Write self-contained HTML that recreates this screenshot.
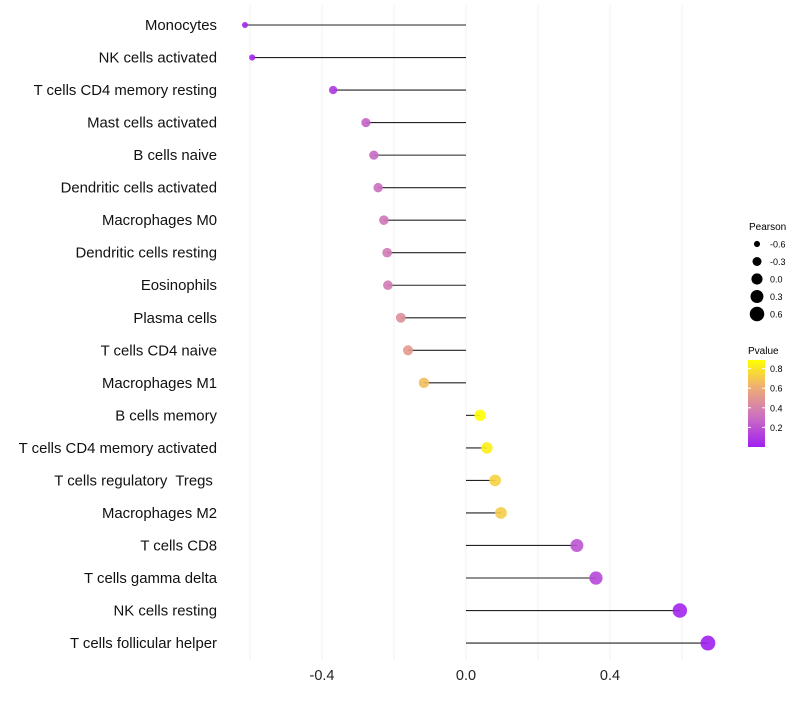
<!DOCTYPE html>
<html><head><meta charset="utf-8"><style>body{margin:0;background:#fff}svg{font-family:"Liberation Sans",sans-serif}text{white-space:pre}</style></head>
<body>
<svg id="c" width="800" height="700">
<defs><linearGradient id="pg" x1="0" y1="1" x2="0" y2="0">
<stop offset="0" stop-color="#a020f0"/><stop offset="0.35" stop-color="#cc70c0"/><stop offset="0.7" stop-color="#f0b070"/><stop offset="1" stop-color="#ffff00"/></linearGradient></defs>
<g id="grid"></g><g id="marks"></g><g id="axes"></g>
<g>
<text x="749" y="230" font-size="10">Pearson</text>
<g id="sizeleg"></g>
<text x="748" y="354" font-size="10">Pvalue</text>
<rect x="748" y="360" width="17" height="87" fill="url(#pg)"/>
<g id="colleg"></g>
</g>
</svg>
<script>
const categories=["Monocytes","NK cells activated","T cells CD4 memory resting","Mast cells activated","B cells naive","Dendritic cells activated","Macrophages M0","Dendritic cells resting","Eosinophils","Plasma cells","T cells CD4 naive","Macrophages M1","B cells memory","T cells CD4 memory activated","T cells regulatory  Tregs ","Macrophages M2","T cells CD8","T cells gamma delta","NK cells resting","T cells follicular helper"];
const pearson=[-0.614,-0.594,-0.369,-0.278,-0.256,-0.244,-0.228,-0.219,-0.217,-0.181,-0.161,-0.117,0.039,0.058,0.081,0.097,0.308,0.361,0.594,0.672];
const pvalue=[0.01,0.02,0.1,0.25,0.28,0.3,0.33,0.35,0.35,0.45,0.5,0.65,0.87,0.82,0.72,0.7,0.2,0.15,0.02,0.0];
const xTicks=[-0.4,0.0,0.4];
const gridVals=[-0.6,-0.4,-0.2,0,0.2,0.4,0.6];
const sizeLegend=[-0.6,-0.3,0.0,0.3,0.6];
const colorTicks=[0.2,0.4,0.6,0.8];
const NS="http://www.w3.org/2000/svg";
const X=v=>466+v*360, Y=i=>25+i*32.53, R=v=>Math.sqrt(Math.max(5,31+36*v));
const PY=p=>447-p*98;
function col(p){const t=Math.min(1,Math.max(0,p/0.87));const s=[[0,[160,32,240]],[0.35,[204,112,192]],[0.7,[240,176,112]],[1,[255,255,0]]];
for(let k=1;k<s.length;k++){if(t<=s[k][0]){const a=s[k-1],b=s[k],f=(t-a[0])/(b[0]-a[0]);return 'rgb('+a[1].map((c,j)=>Math.round(c+(b[1][j]-c)*f)).join(',')+')';}}return 'rgb(255,255,0)';}
function mk(tag,at,par,txt){const e=document.createElementNS(NS,tag);for(const k in at)e.setAttribute(k,at[k]);if(txt!=null)e.textContent=txt;document.getElementById(par).appendChild(e);return e;}
gridVals.forEach(v=>{const e=mk('line',{x1:X(v),x2:X(v),y1:5,y2:660,stroke:'#f0f0f0','stroke-width':1},'grid');

});
xTicks.forEach(v=>{const e=mk('text',{x:X(v),y:680,'font-size':14.5,'text-anchor':'middle',fill:'#222'},'axes',v.toFixed(1));

});
categories.forEach((c,i)=>{const t=mk('text',{x:217,y:Y(i)+5,'font-size':14.9,'text-anchor':'end',fill:'#111'},'axes',c);


const l=mk('line',{x1:X(0),x2:X(pearson[i]),y1:Y(i),y2:Y(i),stroke:'#222','stroke-width':1.1},'marks');


const d=mk('circle',{cx:X(pearson[i]),cy:Y(i),r:R(pearson[i]),fill:col(pvalue[i]),'fill-opacity':0.9},'marks');

});
sizeLegend.forEach((v,i)=>{const y=244+i*17.5;const d=mk('circle',{cx:757,cy:y,r:R(v),fill:'#000'},'sizeleg');


const t=mk('text',{x:770,y:y+3.5,'font-size':9},'sizeleg',v.toFixed(1));

});
colorTicks.forEach(p=>{const y=PY(p);mk('line',{x1:748,x2:751,y1:y,y2:y,stroke:'#fff'},'colleg');mk('line',{x1:762,x2:765,y1:y,y2:y,stroke:'#fff'},'colleg');
const t=mk('text',{x:770,y:y+3.5,'font-size':9},'colleg',p.toFixed(1));

});
</script>
</body></html>
